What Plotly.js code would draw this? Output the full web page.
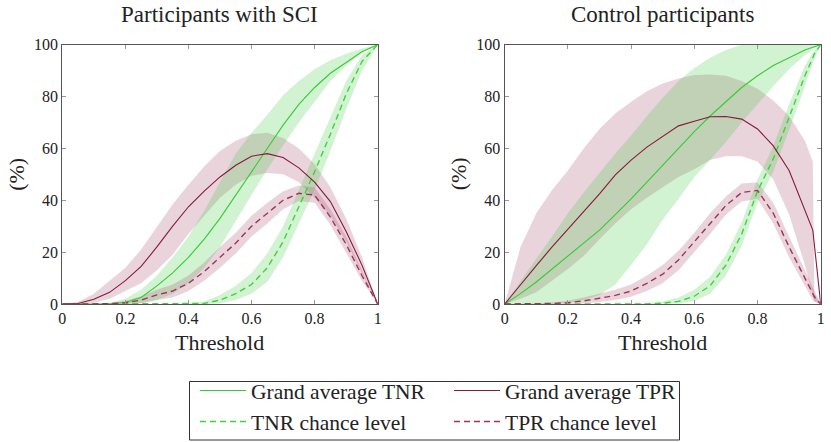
<!DOCTYPE html>
<html>
<head>
<meta charset="utf-8">
<script src="https://cdn.plot.ly/plotly-3.0.1.min.js"></script>
<style>html,body{margin:0;padding:0;background:#fff;}#chart{width:831px;height:442px;}</style>
</head>
<body>
<div id="chart"></div>
<script>
// ---- Data ----
const thresholdsSCI = [0,0.05,0.1,0.15,0.2,0.25,0.3,0.35,0.4,0.45,0.5,0.55,0.6,0.65,0.7,0.75,0.8,0.85,0.9,0.95,1];
const sciTNR      = [0,0,0,0.1,0.6,2.5,7,12,18,25,33,42,51,60.5,69,77,83.5,89,93,97.3,100];
const sciTNRUpper = [0,0,0,0.3,2,5.5,11,18,26,36,47,58,66,73,80.5,86,90.5,94,96.5,98.5,100];
const sciTNRLower = [0,0,0,0,0,0.3,1.5,4,8,14,22,32,42,52,61,70,78,86,92,97,100];
const sciTPR      = [0,0.2,1.8,4.5,9,14.5,22,30,37.5,43.5,49,53.5,57,58,56.5,52.5,47,39.5,28,15,0];
const sciTPRUpper = [0,0.8,4,9,14,21,30,38.5,46,53,59,63,65.5,66,64,60,54,45,33,18,0];
const sciTPRLower = [0,0,0.5,2,5,8,13,19,27,34,41,46,49.5,50.5,50,47,41,34,24,12,0];
const sciTNRChance      = [0,0,0,0,0,0,0,0,0,0.2,1.5,4,7.5,14,24,37.5,51,65.5,81,93.5,100];
const sciTNRChanceUpper = [0,0,0,0,0,0,0,0,0.3,1,3.5,7,12,19.5,30,44,58,72,86,96,100];
const sciTNRChanceLower = [0,0,0,0,0,0,0,0,0,0,0.3,1.5,4,8.5,18,31,44,59,75,90,100];
const sciTPRChance      = [0,0,0,0.1,0.5,1.5,3.5,5,8,12.5,18,23.5,30,35,40,42.7,42,33.5,23,11,0];
const sciTPRChanceUpper = [0,0,0,0.4,1.3,3,5.5,7.5,11,16,22,27.5,34,39,43.5,45.7,45,36.5,26,13,0];
const sciTPRChanceLower = [0,0,0,0,0,0.3,1.5,2.5,5,9,14,19.5,26,31,36.5,39.7,39,30.5,20,9,0];

const thresholdsCtrl = [0,0.05,0.1,0.15,0.2,0.25,0.3,0.35,0.4,0.45,0.5,0.55,0.6,0.65,0.7,0.75,0.8,0.85,0.9,0.95,0.975,0.98,1];
const ctrlTNR      = [0,4,8.5,13.5,18.5,23.5,28.5,34.5,40.5,47,53.5,60,66.5,72.5,78,83.5,88,92,95,98,99,99.2,100];
const ctrlTNRUpper = [0,9,17.5,26,35,43,50.5,58,65,72.5,79.5,86,91,95,98,100,100,100,100,100,100,100,100];
const ctrlTNRLower = [0,0,0,0,0.5,1.5,3.5,7.5,15,23,32.5,40.5,49,55.5,62.5,70,77,84,90.5,96,98,98.5,100];
const ctrlTPR      = [0,7.5,14.8,22,28.8,36,42.5,49.8,55.5,60.5,64.6,68.7,70.5,72.2,72.3,71.3,67.5,61,51.5,36,28.5,22.8,0];
const ctrlTPRUpper = [0,22,35,44,51.5,60,67.5,73.5,78,82,85,87,88.3,88.5,88,86,83,78.5,72.5,63,55,4,0];
const ctrlTPRLower = [0,2,4.5,9,13.5,18.5,25,31,36.5,41,45,49,52,55.5,57,57,55,48,34.5,15,3,1,0];
const ctrlTNRChance      = [0,0,0,0,0,0,0,0,0,0,0.3,1,3,7,15,27,43.5,56,72,88,95,96.5,100];
const ctrlTNRChanceUpper = [0,0,0,0,0,0,0,0,0,0.3,1,2.5,5.5,10.5,19,31.5,48,61,77,92,97,98,100];
const ctrlTNRChanceLower = [0,0,0,0,0,0,0,0,0,0,0,0.2,1.2,4,11,22.5,39,51,67,84,93,94.5,100];
const ctrlTPRChance      = [0,0,0,0.2,0.5,1.2,2.2,3.3,5,8,11.5,17,24,31,38,43,43.8,35,22,10,3.5,2.8,0];
const ctrlTPRChanceUpper = [0,0,0.2,0.6,1.3,2.5,4,5.5,7.5,11,15,20.5,27.5,35,41.5,46.5,47,39,26,13,6,5,0];
const ctrlTPRChanceLower = [0,0,0,0,0,0.2,0.8,1.5,2.8,5,8,13,20,27,34.5,39.5,40.5,31,18,7,1.5,1,0];

const panelTitles = ['Participants with SCI', 'Control participants'];
const xAxisTitle = 'Threshold';
const yAxisTitle = '(%)';
const xTickVals = [0,0.2,0.4,0.6,0.8,1];
const xTickText = ['0','0.2','0.4','0.6','0.8','1'];
const yTickVals = [0,20,40,60,80,100];
const seriesNames = ['Grand average TNR','Grand average TPR','TNR chance level','TPR chance level'];

// ---- Styles ----
const GREEN = 'rgb(50,205,50)';
const GREEN_DASH = 'rgb(60,210,60)';
const RED = 'rgb(135,25,60)';
const RED_DASH = 'rgb(160,50,90)';
const GREEN_FILL = 'rgba(50,200,50,0.22)';
const RED_FILL = 'rgba(150,40,80,0.2)';
const FONT = '"Liberation Serif", "DejaVu Serif", serif';
const TXT = '#222';

function band(x, up, lo, color, xa, ya) {
  return {
    x: x.concat(x.slice().reverse()),
    y: up.concat(lo.slice().reverse()),
    type: 'scatter', mode: 'lines', fill: 'toself', fillcolor: color,
    line: {width: 0, color: 'rgba(0,0,0,0)'}, hoverinfo: 'skip', showlegend: false,
    xaxis: xa, yaxis: ya
  };
}
function line(x, y, color, dash, name, xa, ya, show, leg) {
  return {
    x: x, y: y, type: 'scatter', mode: 'lines', name: name, legendgroup: name,
    line: {color: color, width: dash ? 1.4 : 1.1, dash: dash ? '6px,4px' : 'solid'},
    xaxis: xa, yaxis: ya, showlegend: show, legend: leg
  };
}

const traces = [];
[[thresholdsSCI, sciTNRUpper, sciTNRLower, sciTPRUpper, sciTPRLower, sciTNRChanceUpper, sciTNRChanceLower, sciTPRChanceUpper, sciTPRChanceLower, 'x', 'y'],
 [thresholdsCtrl, ctrlTNRUpper, ctrlTNRLower, ctrlTPRUpper, ctrlTPRLower, ctrlTNRChanceUpper, ctrlTNRChanceLower, ctrlTPRChanceUpper, ctrlTPRChanceLower, 'x2', 'y2']
].forEach(p => {
  traces.push(band(p[0], p[3], p[4], RED_FILL, p[9], p[10]));
  traces.push(band(p[0], p[1], p[2], GREEN_FILL, p[9], p[10]));
  traces.push(band(p[0], p[7], p[8], RED_FILL, p[9], p[10]));
  traces.push(band(p[0], p[5], p[6], GREEN_FILL, p[9], p[10]));
});
traces.push(line(thresholdsSCI, sciTNR, GREEN, false, seriesNames[0], 'x', 'y', true, 'legend'));
traces.push(line(thresholdsSCI, sciTNRChance, GREEN_DASH, true, seriesNames[2], 'x', 'y', true, 'legend'));
traces.push(line(thresholdsSCI, sciTPR, RED, false, seriesNames[1], 'x', 'y', true, 'legend2'));
traces.push(line(thresholdsSCI, sciTPRChance, RED_DASH, true, seriesNames[3], 'x', 'y', true, 'legend2'));
traces.push(line(thresholdsCtrl, ctrlTNR, GREEN, false, seriesNames[0], 'x2', 'y2', false));
traces.push(line(thresholdsCtrl, ctrlTNRChance, GREEN_DASH, true, seriesNames[2], 'x2', 'y2', false));
traces.push(line(thresholdsCtrl, ctrlTPR, RED, false, seriesNames[1], 'x2', 'y2', false));
traces.push(line(thresholdsCtrl, ctrlTPRChance, RED_DASH, true, seriesNames[3], 'x2', 'y2', false));

const W = 831, H = 442;
function xAxis(dom) {
  return {
    domain: dom, range: [0, 1], tickvals: xTickVals, ticktext: xTickText,
    ticks: 'inside', ticklen: 4, tickcolor: '#999', showline: true, linecolor: '#555', linewidth: 1.2,
    mirror: 'ticks', showgrid: false, zeroline: false, fixedrange: true, automargin: false,
    tickfont: {family: FONT, size: 16, color: TXT}
  };
}
function yAxis(dom, anchor) {
  return {
    domain: dom, range: [0, 100], tickvals: yTickVals, anchor: anchor,
    ticks: 'inside', ticklen: 4, tickcolor: '#999', showline: true, linecolor: '#555', linewidth: 1.2,
    mirror: 'ticks', showgrid: false, zeroline: false, fixedrange: true, automargin: false,
    tickfont: {family: FONT, size: 16, color: TXT}
  };
}
const yDom = [(H - 304) / H, (H - 44.7) / H];
const xDom1 = [62.3 / W, 377.7 / W];
const xDom2 = [504.7 / W, 820.7 / W];
const yMid = (yDom[0] + yDom[1]) / 2;

function ann(text, x, y, size, angle) {
  return {text: text, x: x, y: y, xref: 'paper', yref: 'paper', showarrow: false,
          xanchor: 'center', yanchor: 'middle', textangle: angle || 0,
          font: {family: FONT, size: size, color: TXT}};
}

const layout = {
  width: W, height: H,
  margin: {l: 0, r: 0, t: 0, b: 0, autoexpand: false},
  paper_bgcolor: '#fff', plot_bgcolor: '#fff',
  font: {family: FONT, color: TXT},
  xaxis: Object.assign(xAxis(xDom1), {anchor: 'y'}),
  yaxis: yAxis(yDom, 'x'),
  xaxis2: Object.assign(xAxis(xDom2), {anchor: 'y2'}),
  yaxis2: yAxis(yDom, 'x2'),
  annotations: [
    ann(panelTitles[0], (xDom1[0] + xDom1[1]) / 2, (H - 15) / H, 23),
    ann(panelTitles[1], (xDom2[0] + xDom2[1]) / 2, (H - 15) / H, 23),
    ann(xAxisTitle, (xDom1[0] + xDom1[1]) / 2, (H - 342) / H, 22),
    ann(xAxisTitle, (xDom2[0] + xDom2[1]) / 2, (H - 342) / H, 22),
    ann(yAxisTitle, 16.5 / W, yMid, 22, -90),
    ann(yAxisTitle, 458 / W, yMid, 22, -90)
  ],
  shapes: [
    {type: 'rect', xref: 'paper', yref: 'paper', x0: 189.5 / W, x1: 679.5 / W, y0: (H - 440) / H, y1: (H - 381.5) / H,
     line: {color: '#333', width: 1}, fillcolor: 'rgba(0,0,0,0)'}
  ],
  legend: {x: 195 / W, y: 0, xanchor: 'left', yanchor: 'bottom', orientation: 'v', itemwidth: 46,
           bgcolor: 'rgba(0,0,0,0)', borderwidth: 0, font: {family: FONT, size: 21.5, color: TXT}, tracegroupgap: 0},
  legend2: {x: 449 / W, y: 0, xanchor: 'left', yanchor: 'bottom', orientation: 'v', itemwidth: 46,
           bgcolor: 'rgba(0,0,0,0)', borderwidth: 0, font: {family: FONT, size: 21.5, color: TXT}, tracegroupgap: 0},
  showlegend: true
};

Plotly.newPlot('chart', traces, layout, {displayModeBar: false, staticPlot: true});
</script>
</body>
</html>
